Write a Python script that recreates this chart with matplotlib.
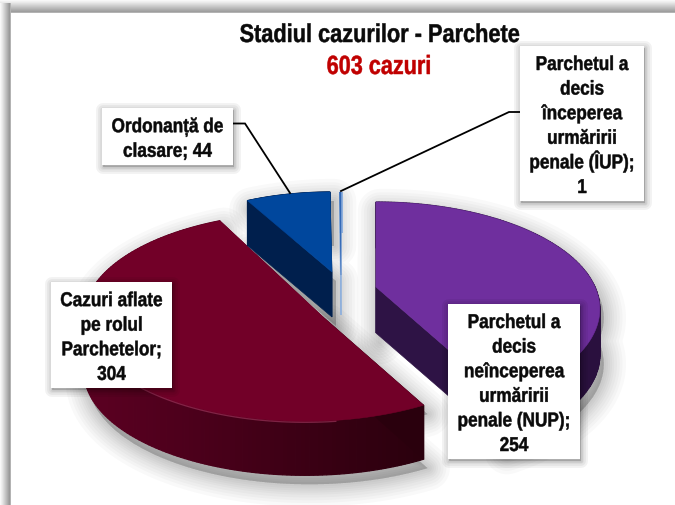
import matplotlib
matplotlib.use('Agg')
import matplotlib.pyplot as plt
import numpy as np
from matplotlib.patches import Polygon, Rectangle
from matplotlib.colors import to_rgb
from matplotlib.patheffects import AbstractPathEffect
from matplotlib.transforms import Affine2D

# --- datos ---
categories = ['Parchetul a\ndecis\nînceperea\nurmăririi\npenale (ÎUP);', 'Parchetul a\ndecis\nneînceperea\nurmăririi\npenale (NUP);',
              'Cazuri aflate\npe rolul\nParchetelor;', 'Ordonanță de\nclasare;']
values = [1, 254, 304, 44]
title_main = 'Stadiul cazurilor - Parchete'
title_sub = '603 cazuri'

# --- geometria y colores de cada porcion (mismo orden que values) ---
apex = [(341, 276), (376, 288), (323, 318), (332, 273)]
radius_x = [130, 219, 220, 187]
radius_y = [83, 102.5, 104, 80]
persp_v = [0, 0.206, 0, 0]
persp_u = [0, 0, 0.08, 0]
depth = [40, 46, 54, 45]
top_col = ['#2f66b5', '#6f2f9e', '#720028', '#00479d']
side_left = ['#8fb0dc', '#2e1345', '#5c0022', '#001f4d']
side_right = ['#8fb0dc', '#2a103e', '#2a000d', '#001f4d']
first_angle = -0.6

boxes = [(520, 47, 124, 155), (448, 305, 132, 155), (51, 283, 121, 106), (102, 109, 131, 57)]
FONT = ['Liberation Sans', 'DejaVu Sans']
LINE_STEP = 24.6


class Squeeze(AbstractPathEffect):
    # texto real, estrechado en horizontal porque no hay fuente narrow
    def __init__(self, xc, sx, stroke=0.35):
        super().__init__()
        self.xc, self.sx, self.stroke = xc, sx, stroke

    def draw_path(self, renderer, gc, tpath, affine, rgbFace=None):
        a = affine + Affine2D().translate(-self.xc, 0).scale(self.sx, 1).translate(self.xc, 0)
        gc0 = renderer.new_gc()
        gc0.copy_properties(gc)
        gc0.set_foreground(rgbFace)
        gc0.set_linewidth(self.stroke)
        renderer.draw_path(gc0, tpath, a, rgbFace)
        gc0.restore()


def rim(i, angle):
    t = np.radians(angle)
    u, v = np.sin(t), np.cos(t)
    w = 1 + persp_v[i] * v + persp_u[i] * u
    return np.column_stack([apex[i][0] + radius_x[i] * u / w, apex[i][1] - radius_y[i] * v / w])


def soft_shadow(ax, pts, dx, dy, widths, alpha, z):
    pts = np.asarray(pts) + [dx, dy]
    for w in widths:
        ax.add_patch(Polygon(pts, closed=True, fc='k', ec='k', lw=w, alpha=alpha, joinstyle='round', zorder=z))


def outline(i, a0, a1):
    arc = rim(i, np.linspace(a0, a1, 160))
    return arc, np.vstack([[apex[i]], arc])


def silhouette(i, a0, a1):
    arc, top = outline(i, a0, a1)
    low = top + [0, depth[i]]
    return np.vstack([top, low[::-1]])


fig = plt.figure(figsize=(6.75, 5.06), dpi=100)
ax = fig.add_axes([0, 0, 1, 1])
ax.axis('off')

# marco gris arriba e izquierda
ramp_top = np.interp(np.arange(14), [0, 3, 12, 13], [1.0, 0.92, 0.62, 0.7])
ax.imshow(ramp_top[:, None], extent=(0, 675, 14, 0), cmap='gray', vmin=0, vmax=1, aspect='auto', zorder=1)
ramp_left = np.interp(np.arange(11), [0, 2, 9, 10], [0.97, 0.9, 0.6, 0.7])
ax.imshow(ramp_left[None, :], extent=(0, 11, 506, 4), cmap='gray', vmin=0, vmax=1, aspect='auto', zorder=1)
ax.set_xlim(0, 675)
ax.set_ylim(506, 0)

# angulos a partir de los valores
ang = first_angle + np.concatenate([[0], np.cumsum(values)]) / np.sum(values) * 360

# sombras
widths = [32, 27, 23, 19, 15, 12, 9, 6, 3]
for i in [1, 2, 3]:
    soft_shadow(ax, silhouette(i, ang[i], ang[i + 1]), 4, 9, widths, 0.025, 2)

for i in [1, 3, 0, 2]:
    a0, a1 = ang[i], ang[i + 1]
    z = 3 + i
    arc, top = outline(i, a0, a1)
    d = np.array([0, depth[i]])
    # cara exterior, por tiras
    x_min, x_max = arc[:, 0].min(), arc[:, 0].max()
    c0, c1 = np.array(to_rgb(side_left[i])), np.array(to_rgb(side_right[i]))
    for j in range(len(arc) - 1):
        f = (arc[j, 0] - x_min) / max(x_max - x_min, 1)
        col = c0 + (c1 - c0) * f
        ax.add_patch(Polygon([arc[j], arc[j + 1], arc[j + 1] + d, arc[j] + d], fc=col, ec=col, lw=0.9, zorder=z))
    # caras de corte
    ax.add_patch(Polygon([apex[i], arc[0], arc[0] + d, np.array(apex[i]) + d], fc=side_right[i], ec=side_right[i], lw=0.5, zorder=z))
    ax.add_patch(Polygon([apex[i], arc[-1], arc[-1] + d, np.array(apex[i]) + d], fc=side_left[i], ec=side_left[i], lw=0.5, zorder=z))
    # cara superior
    ax.add_patch(Polygon(top, fc=top_col[i], ec=top_col[i], lw=0.4, zorder=z + 0.5))
    if i == 2:
        front = rim(i, np.linspace(a0 + 25, a0 + 110, 80))
        ax.plot(front[:, 0], front[:, 1] + 1, color='#a83a63', lw=0.9, alpha=0.6, zorder=z + 0.6)

# lineas guia
ax.plot([233, 245, 290], [124.5, 124.5, 194], color='black', lw=1.3, zorder=9, solid_joinstyle='miter')
ax.plot([520, 509, 341], [113, 113, 192], color='black', lw=1.3, zorder=9, solid_joinstyle='miter')

# etiquetas, linea a linea para que el paso sea regular
for cat, val, (x, y, w, h) in zip(categories, values, boxes):
    corners = [(x, y), (x + w, y), (x + w, y + h), (x, y + h)]
    soft_shadow(ax, corners, 1, 2, [10, 7, 4, 2], 0.05, 10)
    ax.add_patch(Rectangle((x, y), w, h, fc='white', ec='none', zorder=11))
    lines = cat.split('\n')
    if cat.endswith('clasare;'):
        lines[-1] = f'{lines[-1]} {val}'
    else:
        lines.append(str(val))
    for k, line in enumerate(lines):
        base = y + h / 2 + 8 + (k - (len(lines) - 1) / 2) * LINE_STEP
        ax.text(x + w / 2, base, line, ha='center', va='baseline', family=FONT, weight='bold', fontsize=14.4,
                color='#0a0a0a', zorder=12, path_effects=[Squeeze(x + w / 2, 0.86)])

# titulo
ax.text(380, 43, title_main, ha='center', va='baseline', family=FONT, weight='bold', fontsize=18.5,
        color='#0a0a0a', zorder=12, path_effects=[Squeeze(380, 0.846)])
ax.text(379, 75, title_sub, ha='center', va='baseline', family=FONT, weight='bold', fontsize=19,
        color='#c00000', zorder=12, path_effects=[Squeeze(379, 0.82)])

plt.savefig('out.png', dpi=100)
plt.close()
